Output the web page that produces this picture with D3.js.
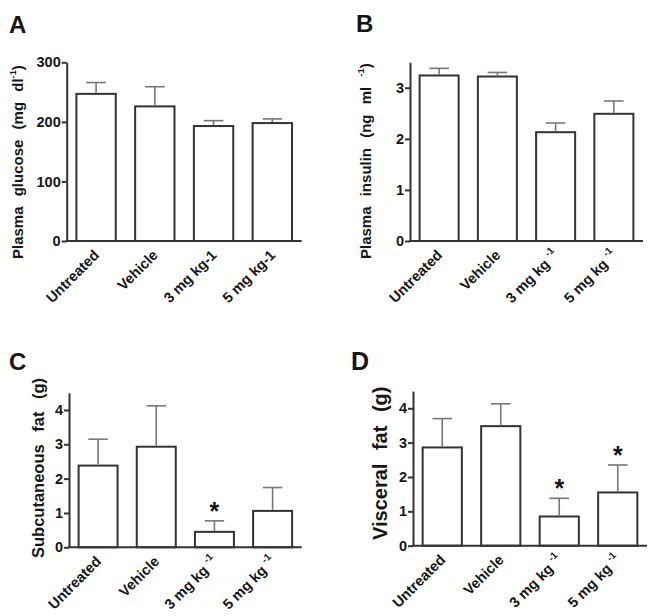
<!DOCTYPE html>
<html>
<head>
<meta charset="utf-8">
<script src="https://cdn.jsdelivr.net/npm/d3@7"></script>
<style>
  html, body { margin: 0; padding: 0; background: #fff; }
  svg { display: block; font-family: "Liberation Sans", Arial, Helvetica, sans-serif; font-weight: bold; }
</style>
</head>
<body>
<svg id="chart" width="654" height="616"></svg>
<script>
// ---- data ----
const categories = ["Untreated", "Vehicle", "3 mg kg", "5 mg kg"];
const catSupA = ["", "", "-1", "-1"];          // panel A writes "kg-1" inline
const catSupOther = ["", "", "-1", "-1"];      // panels B-D use superscript

const glucose = [247, 226, 193, 198];
const glucoseErr = [19, 33, 9, 7];
const glucoseTicks = [0, 100, 200, 300];

const insulin = [3.24, 3.22, 2.13, 2.49];
const insulinErr = [0.14, 0.08, 0.18, 0.25];
const insulinTicks = [0, 1, 2, 3];

const subcutFat = [2.38, 2.93, 0.45, 1.06];
const subcutFatErr = [0.77, 1.19, 0.32, 0.68];
const subcutSig = [false, false, true, false];
const fatTicks = [0, 1, 2, 3, 4];

const visceralFat = [2.86, 3.48, 0.85, 1.55];
const visceralFatErr = [0.84, 0.65, 0.53, 0.80];
const visceralSig = [false, false, true, true];

// ---- drawing ----
const svg = d3.select("#chart");
const TEXT = "#151515", AXIS = "#333", BAR = "#333", ERR = "#777";

function drawPanel(cfg) {
  const g = svg.append("g");
  const x = d3.scaleBand().domain(categories).range([cfg.left, cfg.right])
    .paddingInner(0.33).paddingOuter(0.165);
  const y = d3.scaleLinear().domain([0, cfg.max]).range([cfg.y0, cfg.yTop]);

  // bars
  g.selectAll("rect.bar").data(cfg.values).enter().append("rect")
    .attr("x", (d, i) => x(categories[i]))
    .attr("y", d => y(d))
    .attr("width", x.bandwidth())
    .attr("height", d => y(0) - y(d))
    .attr("fill", "#fff").attr("stroke", BAR).attr("stroke-width", 2);

  // error bars (upper only)
  const capW = x.bandwidth() * 0.5;
  cfg.values.forEach((v, i) => {
    const cx = x(categories[i]) + x.bandwidth() / 2;
    g.append("line").attr("x1", cx).attr("x2", cx)
      .attr("y1", y(v) - 1).attr("y2", y(v + cfg.errs[i]))
      .attr("stroke", ERR).attr("stroke-width", 1.6);
    g.append("line").attr("x1", cx - capW / 2).attr("x2", cx + capW / 2)
      .attr("y1", y(v + cfg.errs[i])).attr("y2", y(v + cfg.errs[i]))
      .attr("stroke", ERR).attr("stroke-width", 1.6);
    if (cfg.sig && cfg.sig[i]) {
      g.append("text").attr("x", cx).attr("y", y(v + cfg.errs[i]) - 1)
        .attr("text-anchor", "middle").attr("font-size", 25)
        .attr("fill", TEXT).text("*");
    }
  });

  // y axis
  const yAxis = d3.axisLeft(y).tickValues(cfg.ticks).tickSize(5).tickSizeOuter(0).tickPadding(1)
    .tickFormat(d3.format("d"));
  const ya = g.append("g").attr("transform", `translate(${cfg.left},0)`).call(yAxis);
  ya.select(".domain").attr("stroke", AXIS).attr("stroke-width", 2);
  ya.selectAll(".tick line").attr("stroke", AXIS).attr("stroke-width", 2);
  ya.selectAll(".tick text").attr("font-size", 14.5).attr("font-weight", "bold")
    .attr("font-family", "Liberation Sans, Arial, sans-serif").attr("fill", TEXT);

  // x axis line
  g.append("line").attr("x1", cfg.left - 1).attr("x2", cfg.right)
    .attr("y1", y(0)).attr("y2", y(0)).attr("stroke", AXIS).attr("stroke-width", 2);

  // x labels
  categories.forEach((c, i) => {
    const cx = x(c) + x.bandwidth() / 2 + 4;
    const t = g.append("text")
      .attr("transform", `translate(${cx},${y(0) + 15}) rotate(-45)`)
      .attr("text-anchor", "end").attr("font-size", 14.5).attr("fill", TEXT);
    t.append("tspan").text(c);
    const sup = cfg.supLabels[i];
    if (sup) {
      if (cfg.inlineSup) {
        t.append("tspan").text(sup);
      } else {
        t.append("tspan").text("\u00a0");
        t.append("tspan").attr("font-size", 10).attr("dy", -7).text(sup);
      }
    }
  });

  // y label
  const yl = g.append("text")
    .attr("transform", `translate(${cfg.ylx},${cfg.yly}) rotate(-90)`)
    .attr("text-anchor", "start").attr("font-size", cfg.ylSize).attr("fill", TEXT)
    .style("word-spacing", cfg.wordSpacing + "px");
  yl.append("tspan").text(cfg.ylabel);
  if (cfg.ylSup) {
    yl.append("tspan").attr("font-size", cfg.ylSize * 0.62).attr("dy", -cfg.ylSize * 0.45).text(cfg.ylSup);
    yl.append("tspan").attr("dy", cfg.ylSize * 0.45).text(cfg.ylAfter);
  }

  // panel letter
  g.append("text").attr("x", cfg.lx).attr("y", cfg.ly).attr("font-size", cfg.lSize || 24)
    .attr("fill", TEXT).text(cfg.letter);
}

drawPanel({
  left: 66.7, right: 301.7, y0: 241, yTop: 62.3, max: 300,
  values: glucose, errs: glucoseErr, ticks: glucoseTicks,
  supLabels: ["", "", "-1", "-1"], inlineSup: true,
  ylabel: "Plasma glucose (mg dl", ylSup: "-1", ylAfter: ")",
  ylx: 23, yly: 259, ylSize: 15, wordSpacing: 6,
  letter: "A", lx: 9, ly: 33
});

drawPanel({
  left: 410, right: 643, y0: 241, yTop: 62.2, max: 3.5,
  values: insulin, errs: insulinErr, ticks: insulinTicks,
  supLabels: catSupOther, inlineSup: false,
  ylabel: "Plasma insulin (ng ml ", ylSup: "-1", ylAfter: ")",
  ylx: 371, yly: 259, ylSize: 15, wordSpacing: 6,
  letter: "B", lx: 356, ly: 32
});

drawPanel({
  left: 69, right: 301.7, y0: 547.3, yTop: 392.8, max: 4.5,
  values: subcutFat, errs: subcutFatErr, ticks: fatTicks, sig: subcutSig,
  supLabels: catSupOther, inlineSup: false,
  ylabel: "Subcutaneous fat (g)",
  ylx: 44, yly: 558, ylSize: 16.5, wordSpacing: 8,
  letter: "C", lx: 9, ly: 370
});

drawPanel({
  left: 413, right: 647, y0: 545.7, yTop: 391.1, max: 4.5,
  values: visceralFat, errs: visceralFatErr, ticks: fatTicks, sig: visceralSig,
  supLabels: catSupOther, inlineSup: false,
  ylabel: "Visceral fat (g)",
  ylx: 387, yly: 540, ylSize: 20, wordSpacing: 8,
  letter: "D", lx: 351, ly: 370, lSize: 25
});
</script>
</body>
</html>
